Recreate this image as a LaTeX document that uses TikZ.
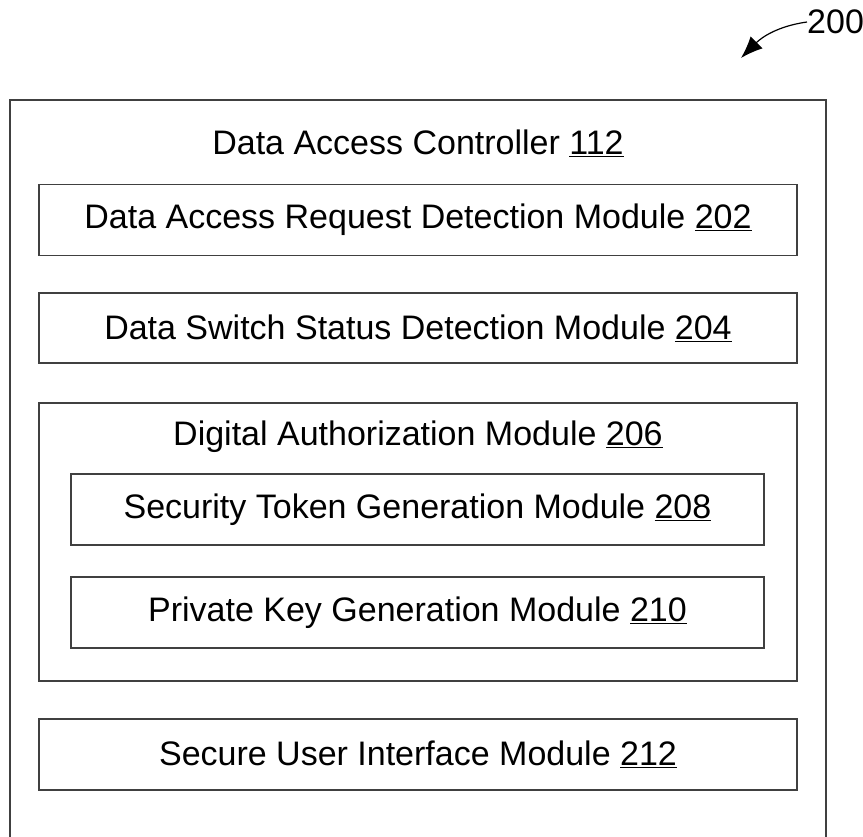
\documentclass[tikz,border=0pt]{standalone}
\usepackage{fontspec}
\setmainfont{Liberation Sans}
\usetikzlibrary{arrows.meta, positioning}

\begin{document}
\begin{tikzpicture}[
    x=1pt, y=-1pt, % Work in pixel units, y pointing down
    >=Latex, % Default arrow tip
    frame/.style={draw=black!75, line width=1.3pt}, % Box outline
    module/.style={frame, rectangle, inner sep=0pt, minimum height=71pt, font=\fontsize{34}{40}\selectfont}, % Module box
    wide/.style={module, minimum width=758pt}, % Full width module
    narrow/.style={module, minimum width=693pt}, % Nested module
    title/.style={font=\fontsize{34}{40}\selectfont} % Heading text
]

    % --- Page size ---
    \useasboundingbox (0,0) rectangle (863,837);
    \clip (0,0) rectangle (863,837);

    % --- Outer controller box (runs past the bottom edge) ---
    \draw[frame] (10,870) -- (10,100) -- (826,100) -- (826,870);
    \node[title] (ctrl) at (418,143) {Data Access Controller \underline{112}};

    % --- Modules ---
    \node[wide] (req) at (418,220) {Data Access Request Detection Module \underline{202}};
    \node[wide, minimum height=70pt] (switch) at (418,328) {Data Switch Status Detection Module \underline{204}};

    % Digital authorization block with nested modules
    \node[wide, minimum height=278pt] (auth) at (418,542) {};
    \node[title] (authlbl) at (418,437) {Digital Authorization Module \underline{206}};
    \node[narrow] (token) at (417.5,509.5) {Security Token Generation Module \underline{208}};
    \node[narrow] (key) at (417.5,612.5) {Private Key Generation Module \underline{210}};

    \node[wide] (ui) at (418,754.5) {Secure User Interface Module \underline{212}};

    % --- Reference label ---
    \node[title, anchor=west, inner sep=0pt] (ref) at (807,22) {200};
    \coordinate (tip) at (741,58);
    \draw[-{Latex[length=22pt, width=17pt]}, line width=1.2pt] (ref.west) to[out=188, in=45] (tip);

\end{tikzpicture}
\end{document}
